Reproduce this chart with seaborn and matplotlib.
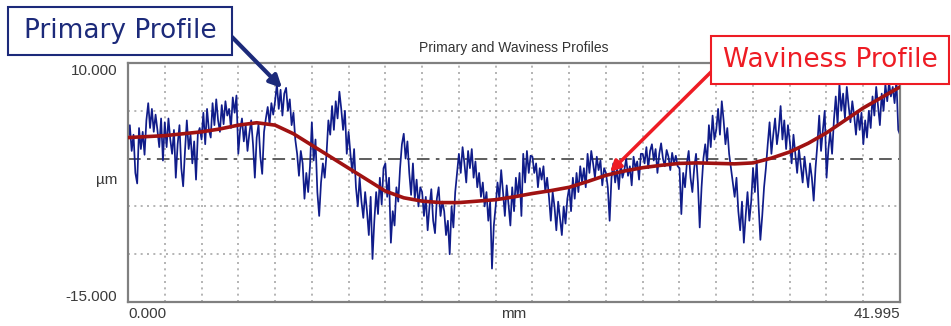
import numpy as np
import pandas as pd
import matplotlib
matplotlib.use("Agg")
import matplotlib.pyplot as plt
import seaborn as sns
from matplotlib.patches import Rectangle

# ---------------- data ----------------
title = "Primary and Waviness Profiles"
x_label = "mm"
y_label = "µm"
x_min, x_max = 0.0, 41.995
y_min, y_max = -15.0, 10.0
x_tick_labels = ["0.000", "41.995"]
y_tick_labels = ["10.000", "-15.000"]
callout_primary = "Primary Profile"
callout_waviness = "Waviness Profile"
sample_step_mm = 0.1

# primary profile (µm), one row per 2 mm grid cell, sampled every 0.1 mm
primary_um = [
    1.8, 3.5, 0.8, 2.5, -1.5, -2.6, 3.2, 1.0, 2.8, 0.4, 4.0, 5.8, 3.2, 5.2, 2.8, 4.6, 3.0, 1.2, 4.2, -0.2,
    3.8, 1.2, 4.2, 2.0, 0.5, 3.0, -2.0, 1.5, 3.5, -1.0, -2.9, 0.8, 4.0, 1.0, 2.5, -0.5, 1.8, -2.2, 2.6, 3.2,
    2.0, 4.8, 1.5, 5.2, 3.0, 2.2, 5.8, 3.5, 6.2, 4.0, 2.8, 5.6, 3.6, 6.0, 4.5, 5.2, 3.2, 6.4, 4.8, 6.6,
    0.5, 3.0, 4.2, 1.8, 3.5, 0.8, 2.6, 4.0, 1.5, -2.0, 2.2, 3.6, 0.2, -1.6, 2.8, 4.2, 5.4, 3.6, 5.8, 4.6,
    6.0, 7.8, 5.2, 7.2, 4.5, 6.8, 7.4, 5.0, 6.2, 3.5, 4.8, 2.0, 0.5, -1.8, 0.8, -0.5, -4.2, -1.5, -3.5, -0.8,
    3.8, -0.2, 2.0, -3.5, -6.0, -2.5, -0.5, -2.0, 0.5, 4.0, 2.5, 5.5, 3.0, 6.0, 4.2, 7.0, 5.2, 3.0, 5.0, 0.5,
    2.8, 0.5, -1.5, 1.0, -3.0, -5.0, -2.0, -4.5, -6.2, -3.5, -5.5, -8.0, -4.0, -10.5, -6.5, -3.5, -5.8, -2.0, -4.8, -1.0,
    -0.5, -4.0, -2.0, -8.8, -5.5, -7.0, -3.0, -4.5, -1.0, 1.5, 2.6, 0.0, 1.8, -1.5, -3.8, -0.5, -4.2, -2.2, -5.0, -3.0,
    -3.5, -6.0, -4.0, -7.5, -5.0, -3.2, -6.5, -7.8, -4.2, -3.0, -6.0, -4.5, -5.5, -8.0, -6.5, -10.0, -5.0, -7.2, -3.5, -1.5,
    0.5, -1.5, 1.2, -0.5, -2.5, 0.8, -1.0, 1.0, -2.0, -0.3, -3.0, -1.5, -4.0, -2.5, -5.0, -3.5, -6.5, -4.5, -11.5, -7.0,
    -5.0, -2.5, -4.2, -1.2, -3.5, -6.0, -2.8, -4.8, -7.0, -3.0, -5.5, -2.0, -4.0, -1.5, -6.0, 0.5, -2.5, 0.8, -1.5, 0.3,
    0.2, -1.5, -0.5, -3.0, -1.0, -2.2, -0.8, -3.5, -2.0, -4.0, -6.5, -3.5, -5.0, -7.5, -4.5, -6.2, -8.0, -5.0, -6.8, -4.2,
    -3.0, -5.5, -2.0, -4.2, -1.5, -3.5, -0.8, -2.5, -1.0, -3.0, 0.5, -1.5, 0.8, -0.5, -2.0, 0.2, -1.2, -0.2, -2.8, -1.0,
    -1.5, -3.0, -6.5, -2.0, -0.5, -2.5, -1.0, -3.2, -0.5, -2.0, -1.2, 0.0, -1.8, -0.8, -2.8, 0.2, -1.0, -0.3, -2.2, 0.5,
    0.5, -0.5, 1.2, -1.0, 0.8, 1.5, -0.2, 1.0, -1.5, 0.5, 1.6, 0.0, -0.8, 0.9, 0.2, -1.2, 0.6, -0.5, 0.3, -0.8,
    -1.0, -5.8, -1.5, -3.0, -0.5, 0.8, -2.0, -3.5, -1.0, 0.5, -2.5, -7.2, -3.0, 0.0, 1.5, -0.5, 3.5, 1.2, 4.5, 2.0,
    3.0, 5.2, 2.5, 6.0, 4.0, 1.5, 3.2, 0.5, -1.0, -2.5, -4.0, -2.0, -5.5, -7.5, -4.5, -8.8, -6.0, -3.5, -6.5, -4.5,
    -1.0, -3.5, -0.2, -4.8, -8.5, -6.0, -3.0, -1.0, 1.5, 3.8, 0.5, 2.5, 4.2, 1.5, 3.0, 5.5, 2.0, 4.0, 1.0, 3.5,
    1.8, -0.5, 2.5, 0.5, -1.5, 1.0, -0.8, -2.5, 0.2, -1.5, -3.0, -0.5, -2.0, -4.4, -1.0, 1.5, 4.5, 0.8, 3.0, 5.0,
    -2.0, 1.0, 2.8, 0.5, 4.0, 6.5, 3.5, 7.8, 5.0, 6.8, 4.2, 7.5, 5.5, 3.8, 6.0, 4.5, 2.5, 5.0, 3.0, 4.8,
    1.5, 4.0, 2.2, 5.0, 3.2, 6.5, 4.5, 7.5, 5.5, 3.5, 6.8, 5.0, 7.8, 6.0, 8.0, 6.5, 7.5, 5.8, 8.2, 3.0,
    2.5,
]

# waviness profile (µm) at 1 mm stations
waviness_x_mm = [0, 1, 2, 3, 4, 5, 6, 7, 8, 9, 10, 11, 12, 13, 14, 15, 16, 17, 18, 19, 20,
                 21, 22, 23, 24, 25, 26, 27, 28, 29, 30, 31, 32, 33, 34, 35, 36, 37, 38, 39, 40, 41, 41.995]
waviness_um = [2.2, 2.3, 2.4, 2.6, 2.8, 3.1, 3.5, 3.75, 3.5, 2.6, 1.4, 0.2, -1.0, -2.2, -3.4, -4.1, -4.45, -4.6, -4.6, -4.45, -4.3,
               -4.0, -3.65, -3.35, -3.0, -2.4, -1.75, -1.3, -0.95, -0.7, -0.5, -0.45, -0.5, -0.55, -0.45, 0.05, 0.7, 1.6, 2.7, 4.0, 5.3, 6.4, 7.5]

# ---------------- figure ----------------
sns.set_style("white")
plt.rcParams["font.family"] = ["Liberation Sans", "DejaVu Sans"]

W, H = 951, 326
fig = plt.figure(figsize=(W / 100, H / 100), dpi=100)
ax = fig.add_axes([128 / W, 1 - 302 / H, 772 / W, 239 / H])

primary_x = np.minimum(np.arange(len(primary_um)) * sample_step_mm, x_max)
df_p = pd.DataFrame({"x": primary_x, "y": primary_um})
df_w = pd.DataFrame({"x": waviness_x_mm, "y": waviness_um})

# grid
ax.set_xlim(x_min, x_max)
ax.set_ylim(y_min, y_max)
ax.set_xticks(np.linspace(x_min, x_max, 22)[1:-1])
ax.set_yticks([-10, -5, 5])
ax.grid(True, linestyle=(0, (1.2, 2.6)), color="#a8a8a8", linewidth=1.2)
ax.tick_params(length=0, labelbottom=False, labelleft=False)
ax.set_axisbelow(True)
ax.axhline(0, color="#505050", linewidth=1.3, linestyle=(0, (7, 3.5, 2, 3.5)), zorder=1)

sns.lineplot(data=df_p, x="x", y="y", ax=ax, color="#101c8a", linewidth=1.25,
             estimator=None, sort=False, zorder=2)
sns.lineplot(data=df_w, x="x", y="y", ax=ax, color="#a01212", linewidth=2.6,
             estimator=None, sort=False, zorder=3)
ax.set_xlabel("")
ax.set_ylabel("")

for s in ax.spines.values():
    s.set_color("#808080")
    s.set_linewidth(1.6)

txt_kw = dict(transform=ax.transAxes, fontsize=11, color="#3a3a3a")
ax.text(-0.014, 0.966, y_tick_labels[0], ha="right", va="center", **txt_kw)
ax.text(-0.014, 0.021, y_tick_labels[1], ha="right", va="center", **txt_kw)
ax.text(-0.014, 0.51, y_label, ha="right", va="center", **txt_kw)
ax.text(0.0, -0.05, x_tick_labels[0], ha="left", va="center", **txt_kw)
ax.text(1.0, -0.05, x_tick_labels[1], ha="right", va="center", **txt_kw)
ax.text(0.5, -0.05, x_label, ha="center", va="center", **txt_kw)
ax.text(0.5, 1.063, title, ha="center", va="center", transform=ax.transAxes,
        fontsize=10, color="#333333")

# callouts
navy = "#1c2a7a"
red = "#ee1c24"
fig.add_artist(Rectangle((8 / W, 1 - 55 / H), 224 / W, 48 / H, transform=fig.transFigure,
                         facecolor="white", edgecolor=navy, linewidth=1.5, zorder=5))
fig.text(120 / W, 1 - 31 / H, callout_primary, ha="center", va="center", fontsize=19,
         color=navy, family="DejaVu Sans", zorder=6)
fig.add_artist(Rectangle((711 / W, 1 - 84 / H), 238 / W, 48 / H, transform=fig.transFigure,
                         facecolor="white", edgecolor=red, linewidth=1.5, zorder=5))
fig.text(830 / W, 1 - 60 / H, callout_waviness, ha="center", va="center", fontsize=19,
         color=red, family="DejaVu Sans", zorder=6)

ax.annotate("", xy=(8.38, 7.38), xycoords="data", xytext=(232, H - 37), textcoords="figure pixels",
            arrowprops=dict(arrowstyle="-|>", color=navy, lw=3, mutation_scale=18,
                            shrinkA=0, shrinkB=0), annotation_clip=False, zorder=7)
ax.annotate("", xy=(26.22, -1.40), xycoords="data", xytext=(711, H - 72), textcoords="figure pixels",
            arrowprops=dict(arrowstyle="-|>", color=red, lw=2.5, mutation_scale=16,
                            shrinkA=0, shrinkB=0), annotation_clip=False, zorder=7)

fig.savefig("out.png", dpi=100)
